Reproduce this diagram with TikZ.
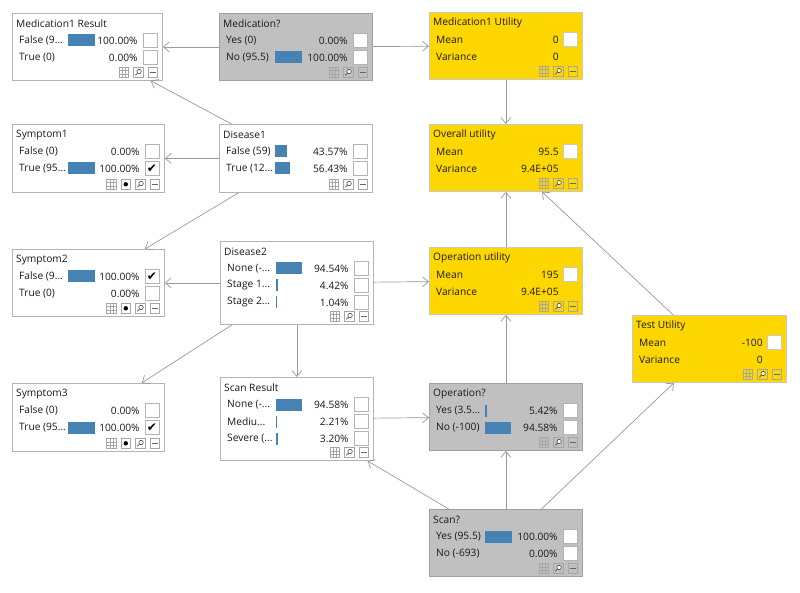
\documentclass[tikz,border=0pt]{standalone}
\usepackage{fontspec}
\setmainfont{Open Sans}
\newfontfamily\symfont{DejaVu Sans}
\usetikzlibrary{arrows.meta}

\definecolor{boxline}{HTML}{B4B4B4}
\definecolor{decfill}{HTML}{C0C0C0}
\definecolor{decline}{HTML}{A0A0A0}
\definecolor{utilfill}{HTML}{FFD700}
\definecolor{utilline}{HTML}{C8C8C8}
\definecolor{barblue}{HTML}{4682B4}
\definecolor{linkgray}{HTML}{999999}

\newcommand{\boxfont}{\fontsize{10.2}{12}\selectfont}
\newcommand{\chk}{✔}

\newcommand{\netbox}[7]{%
  \node[#2,minimum width=#5pt,minimum height=#6pt] (#1) at (#3,#4) {};
  \node[boxtitle] (#1-t) at ([xshift=4pt,yshift=-11pt]#1.north west) {#7};
}
\newcommand{\staterow}[6]{%
  \node[rowtext] (#1-l#2) at ([xshift=7pt,yshift=-#2pt]#1.north west) {#3};
  \ifdim#4pt>0pt
    \fill[barblue] ([xshift=56pt,yshift=-#2pt+6pt]#1.north west) rectangle ++(#4,12);
  \fi
  \node[pcttext] (#1-p#2) at ([xshift=-25pt,yshift=-#2pt]#1.north east) {#5};
  \node[checkbox] (#1-c#2) at ([xshift=-13pt,yshift=-#2pt]#1.north east) {#6};
}
\newcommand{\utilrows}[3]{%
  \node[rowtext] (#1-lm) at ([xshift=7pt,yshift=-27.5pt]#1.north west) {Mean};
  \node[pcttext] (#1-vm) at ([xshift=-24pt,yshift=-27.5pt]#1.north east) {#2};
  \node[checkbox,draw=utilline] (#1-cm) at ([xshift=-13pt,yshift=-27.5pt]#1.north east) {};
  \node[rowtext] (#1-lv) at ([xshift=7pt,yshift=-44.5pt]#1.north west) {Variance};
  \node[pcttext] (#1-vv) at ([xshift=-24pt,yshift=-44.5pt]#1.north east) {#3};
}
\newcommand{\gridicon}[2]{%
  \node[icon] (#1) at (#2) {};
  \draw[icondetail] ([xshift=-1.6pt]#1.north) -- ([xshift=-1.6pt]#1.south)
    ([xshift=1.6pt]#1.north) -- ([xshift=1.6pt]#1.south)
    ([yshift=-1.6pt]#1.west) -- ([yshift=-1.6pt]#1.east)
    ([yshift=1.6pt]#1.west) -- ([yshift=1.6pt]#1.east);
}
\newcommand{\boxicons}[2]{%
  \coordinate (#1-ic) at ([xshift=-10pt,yshift=8.5pt]#1.south east);
  \node[icon] (#1-i1) at (#1-ic) {};
  \draw[black!60,line width=0.6pt] ([xshift=-3pt]#1-i1.center) -- ([xshift=3pt]#1-i1.center);
  \node[icon] (#1-i2) at ([xshift=-14.5pt]#1-ic) {};
  \draw[black!70,line width=0.6pt,fill=white] ([shift={(0.8pt,0.8pt)}]#1-i2.center) circle (2.2pt);
  \draw[black!70,line width=0.6pt] ([shift={(-0.8pt,-0.8pt)}]#1-i2.center) -- ([shift={(-3pt,-3pt)}]#1-i2.center);
  \ifnum#2=1
    \node[icon,fill=white] (#1-i3) at ([xshift=-29pt]#1-ic) {};
    \fill[black] (#1-i3.center) circle (2.2pt);
    \gridicon{#1-i4}{[xshift=-43.5pt]#1-ic}
  \else
    \gridicon{#1-i3}{[xshift=-29pt]#1-ic}
  \fi
}

\begin{document}
\begin{tikzpicture}[x=1pt,y=-1pt,
    netnode/.style={draw=boxline,fill=white,line width=0.8pt,inner sep=0pt,anchor=north west},
    decnode/.style={netnode,draw=decline,fill=decfill},
    utilnode/.style={netnode,draw=utilline,fill=utilfill},
    boxtitle/.style={anchor=west,inner sep=0pt,font=\boxfont,text=black!90},
    rowtext/.style={anchor=west,inner sep=0pt,font=\boxfont,text=black!90},
    pcttext/.style={anchor=east,inner sep=0pt,font=\boxfont,text=black!90},
    checkbox/.style={draw=boxline,fill=white,line width=0.6pt,minimum size=14pt,inner sep=0pt,font=\symfont\fontsize{12}{12}\selectfont},
    icon/.style={draw=black!35,line width=0.6pt,minimum size=9.5pt,inner sep=0pt},
    icondetail/.style={black!35,line width=0.4pt},
    link/.style={draw=linkgray,line width=0.7pt,-{Straight Barb[length=6pt,width=10pt]}}]
    \fill[white] (0,0) rectangle (800,593);
    \useasboundingbox (0,0) rectangle (800,593);

    \netbox{medres}{netnode}{12}{13}{150}{67}{Medication1 Result}
    \staterow{medres}{27.5}{False (9...}{27}{100.00\%}{}
    \staterow{medres}{44.5}{True (0)}{0}{0.00\%}{}
    \boxicons{medres}{0}

    \netbox{med}{decnode}{219}{13}{153}{67}{Medication?}
    \staterow{med}{27.5}{Yes (0)}{0}{0.00\%}{}
    \staterow{med}{44.5}{No (95.5)}{27}{100.00\%}{}
    \boxicons{med}{0}

    \netbox{medu}{utilnode}{429}{12}{153}{67}{Medication1 Utility}
    \utilrows{medu}{0}{0}
    \boxicons{medu}{0}

    \netbox{all}{utilnode}{429}{124}{153}{67}{Overall utility}
    \utilrows{all}{95.5}{9.4E+05}
    \boxicons{all}{0}

    \netbox{s1}{netnode}{12}{124}{152}{68}{Symptom1}
    \staterow{s1}{27.5}{False (0)}{0}{0.00\%}{}
    \staterow{s1}{44.5}{True (95...}{27}{100.00\%}{\chk}
    \boxicons{s1}{1}

    \netbox{d1}{netnode}{219}{124}{153}{68}{Disease1}
    \staterow{d1}{27.5}{False (59)}{11.5}{43.57\%}{}
    \staterow{d1}{44.5}{True (12...}{15}{56.43\%}{}
    \boxicons{d1}{0}

    \netbox{s2}{netnode}{12}{249}{152}{67}{Symptom2}
    \staterow{s2}{27.5}{False (9...}{27}{100.00\%}{\chk}
    \staterow{s2}{44.5}{True (0)}{0}{0.00\%}{}
    \boxicons{s2}{1}

    \netbox{d2}{netnode}{220}{241}{153}{83}{Disease2}
    \staterow{d2}{27.5}{None (-...}{25.5}{94.54\%}{}
    \staterow{d2}{44.5}{Stage 1...}{1.8}{4.42\%}{}
    \staterow{d2}{61.5}{Stage 2...}{1}{1.04\%}{}
    \boxicons{d2}{0}

    \netbox{opu}{utilnode}{429}{247}{153}{67}{Operation utility}
    \utilrows{opu}{195}{9.4E+05}
    \boxicons{opu}{0}

    \netbox{testu}{utilnode}{632}{315}{154}{67}{Test Utility}
    \utilrows{testu}{-100}{0}
    \boxicons{testu}{0}

    \netbox{s3}{netnode}{12}{383}{152}{68}{Symptom3}
    \staterow{s3}{27.5}{False (0)}{0}{0.00\%}{}
    \staterow{s3}{44.5}{True (95...}{27}{100.00\%}{\chk}
    \boxicons{s3}{1}

    \netbox{scanr}{netnode}{220}{377}{153}{83}{Scan Result}
    \staterow{scanr}{27.5}{None (-...}{25.5}{94.58\%}{}
    \staterow{scanr}{44.5}{Mediu...}{1.2}{2.21\%}{}
    \staterow{scanr}{61.5}{Severe (...}{1.5}{3.20\%}{}
    \boxicons{scanr}{0}

    \netbox{op}{decnode}{429}{383}{153}{67}{Operation?}
    \staterow{op}{27.5}{Yes (3.5...}{2}{5.42\%}{}
    \staterow{op}{44.5}{No (-100)}{25.5}{94.58\%}{}
    \boxicons{op}{0}

    \netbox{scan}{decnode}{429}{509}{153}{67}{Scan?}
    \staterow{scan}{27.5}{Yes (95.5)}{27}{100.00\%}{}
    \staterow{scan}{44.5}{No (-693)}{0}{0.00\%}{}
    \boxicons{scan}{0}

    \draw[link] (med) -- (medres);
    \draw[link] (med) -- (medu);
    \draw[link] (d1) -- (medres);
    \draw[link] (d1) -- (s1);
    \draw[link] (d1) -- (s2);
    \draw[link] (d2) -- (s2);
    \draw[link] (d2) -- (s3);
    \draw[link] (d2) -- (scanr);
    \draw[link] (d2) -- (opu);
    \draw[link] (medu) -- (all);
    \draw[link] (opu) -- (all);
    \draw[link] (testu) -- (all);
    \draw[link] (op) -- (opu);
    \draw[link] (scanr) -- (op);
    \draw[link] (scan) -- (op);
    \draw[link] (scan) -- (scanr);
    \draw[link] (scan) -- (testu);
\end{tikzpicture}
\end{document}
